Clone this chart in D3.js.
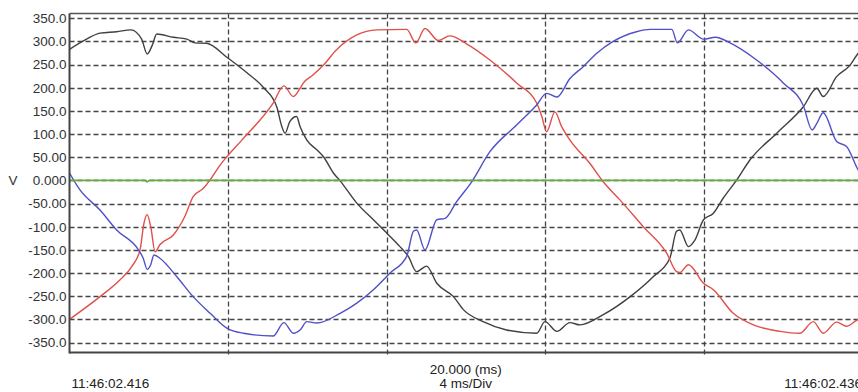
<!DOCTYPE html>
<html>
<head>
<meta charset="utf-8">
<script src="https://cdn.jsdelivr.net/npm/d3@7"></script>
<style>
  html, body { margin: 0; padding: 0; background: #fff; }
  svg { display: block; font-family: "Liberation Sans", Arial, sans-serif; }
</style>
</head>
<body>
<div id="chart"></div>
<script>
// time in ms, voltage in V
const phaseBlack = [
  [0, 283], [0.43, 305], [0.77, 318], [1.19, 321], [1.55, 325], [1.82, 305], [1.96, 273],
  [2.09, 292], [2.2, 316], [2.62, 309], [2.96, 305], [3.17, 297], [3.46, 296], [3.97, 266],
  [4.47, 233], [4.89, 201], [5.23, 159], [5.36, 116], [5.44, 102], [5.56, 127], [5.73, 138],
  [5.82, 116], [5.99, 87], [6.24, 66], [6.41, 51], [6.66, 16], [6.83, -1], [7.25, -49],
  [7.67, -85], [8.01, -114], [8.34, -143], [8.55, -164], [8.76, -197], [9.01, -185],
  [9.27, -222], [9.69, -251], [9.94, -279], [10.44, -305], [11.03, -323], [11.79, -330],
  [12.0, -305], [12.3, -326], [12.63, -307], [12.88, -312], [13.47, -290], [14.15, -251],
  [14.73, -208], [15.15, -168], [15.32, -110], [15.4, -107], [15.62, -143], [15.79, -128],
  [16.0, -85], [16.25, -71], [16.5, -38], [16.84, 1], [17.17, 44], [17.85, 102], [18.52, 159],
  [18.86, 199], [19.02, 181], [19.36, 224], [19.7, 249], [19.9, 274], [20, 282]
];

const phaseRed = [
  [0, -300], [0.77, -251], [1.27, -215], [1.57, -186], [1.78, -150], [1.88, -92], [1.96, -74],
  [2.05, -100], [2.16, -154], [2.28, -139], [2.62, -118], [2.91, -78], [3.12, -35], [3.38, -17],
  [3.55, 1], [3.8, 33], [4.01, 55], [4.35, 87], [5.14, 167], [5.41, 204], [5.65, 181],
  [5.82, 199], [5.9, 210], [6.15, 228], [6.41, 249], [6.74, 282], [7.25, 314], [7.75, 325],
  [8.51, 326], [8.74, 297], [8.97, 328], [9.31, 302], [9.6, 312], [10.02, 295], [10.61, 260],
  [11.29, 210], [11.79, 167], [11.92, 138], [12.04, 105], [12.25, 148], [12.42, 116],
  [12.63, 87], [13.13, 37], [13.47, -3], [13.89, -42], [14.48, -100], [15.07, -157],
  [15.32, -197], [15.4, -199], [15.62, -182], [16.0, -222], [16.25, -236], [16.75, -287],
  [17.26, -312], [17.93, -326], [18.43, -330], [18.77, -305], [19.02, -330], [19.36, -306],
  [19.61, -315], [19.9, -301], [20, -300]
];

const phaseBlue = [
  [0, 16], [0.26, -20], [0.77, -64], [1.19, -107], [1.74, -150], [1.86, -168], [1.96, -192],
  [2.05, -182], [2.13, -161], [2.28, -168], [2.71, -208], [3.12, -251], [3.55, -287],
  [3.97, -319], [4.39, -330], [5.14, -336], [5.41, -307], [5.65, -330], [5.82, -323],
  [5.99, -305], [6.24, -308], [6.83, -287], [7.25, -265], [7.67, -236], [8.09, -200],
  [8.51, -164], [8.68, -110], [8.76, -107], [8.97, -150], [9.27, -85], [9.48, -82],
  [9.77, -46], [10.15, -3], [10.61, 62], [11.29, 120], [11.79, 163], [12.04, 188],
  [12.3, 180], [12.63, 220], [12.97, 246], [13.3, 274], [13.72, 300], [14.31, 321],
  [14.65, 326], [15.2, 326], [15.34, 297], [15.62, 325], [16.0, 305], [16.3, 309],
  [16.67, 297], [17.34, 260], [18.02, 210], [18.52, 161], [18.74, 109], [18.86, 123],
  [19.02, 146], [19.36, 84], [19.61, 73], [19.9, 23], [20, 10]
];

const phaseGreen = [
  [0, 0], [1.9, 0], [1.96, -3], [2.02, 0], [15.28, 0], [15.32, 2], [15.36, 0], [20, 0]
];

const yTicks = [350, 300, 250, 200, 150, 100, 50, 0, -50, -100, -150, -200, -250, -300, -350];
const yTickLabels = ["350.0", "300.0", "250.0", "200.0", "150.0", "100.0", "50.00", "0.000",
  "-50.00", "-100.0", "-150.0", "-200.0", "-250.0", "-300.0", "-350.0"];
const xDivisions = [0, 4, 8, 12, 16, 20];
const startLabel = "11:46:02.416";
const endLabel = "11:46:02.436";
const spanLabel = "20.000 (ms)";
const divLabel = "4 ms/Div";
const unitLabel = "V";

const series = [
  { name: "black", values: phaseBlack, color: "#404040", width: 1.4 },
  { name: "red", values: phaseRed, color: "#e0504a", width: 1.4 },
  { name: "blue", values: phaseBlue, color: "#5050c8", width: 1.4 },
  { name: "green", values: phaseGreen, color: "#66aa44", width: 1.6 }
];

const width = 858;
const height = 392;
const plot = { left: 69.5, right: 862, top: 13.5, bottom: 352.5 };

const svg = d3.select("#chart")
  .append("svg")
  .attr("width", width)
  .attr("height", height);

const x = d3.scaleLinear().domain([0, 20]).range([plot.left, plot.right]);
const y = d3.scaleLinear().domain([-350, 350]).range([342.5, 18.3]);

svg.append("defs").append("clipPath")
  .attr("id", "plot-clip")
  .append("rect")
  .attr("x", plot.left)
  .attr("y", plot.top)
  .attr("width", plot.right - plot.left)
  .attr("height", plot.bottom - plot.top);

// horizontal dashed grid
svg.append("g")
  .selectAll("line")
  .data(yTicks)
  .join("line")
  .attr("x1", plot.left)
  .attr("x2", plot.right)
  .attr("y1", d => Math.round(y(d)) + 0.5)
  .attr("y2", d => Math.round(y(d)) + 0.5)
  .attr("stroke", "#444")
  .attr("stroke-width", 1.3)
  .attr("stroke-dasharray", "5,3");

// vertical division lines
svg.append("g")
  .selectAll("line")
  .data(xDivisions.slice(1, -1))
  .join("line")
  .attr("x1", d => Math.round(x(d)) + 0.5)
  .attr("x2", d => Math.round(x(d)) + 0.5)
  .attr("y1", plot.top)
  .attr("y2", plot.bottom + 4)
  .attr("stroke", "#444")
  .attr("stroke-width", 1.3)
  .attr("stroke-dasharray", "5,3");

const line = d3.line()
  .curve(d3.curveMonotoneX)
  .x(d => x(d[0]))
  .y(d => y(d[1]));

const traces = svg.append("g").attr("clip-path", "url(#plot-clip)");

traces.selectAll("path")
  .data(series)
  .join("path")
  .attr("d", d => line(d.values))
  .attr("fill", "none")
  .attr("stroke", d => d.color)
  .attr("stroke-width", d => d.width)
  .attr("stroke-linejoin", "round");

// frame
svg.append("line")
  .attr("x1", plot.left).attr("x2", plot.right)
  .attr("y1", plot.top).attr("y2", plot.top)
  .attr("stroke", "#555").attr("stroke-width", 1.5);

svg.append("line")
  .attr("x1", plot.left).attr("x2", plot.right)
  .attr("y1", plot.bottom).attr("y2", plot.bottom)
  .attr("stroke", "#444").attr("stroke-width", 2);

svg.append("line")
  .attr("x1", plot.left).attr("x2", plot.left)
  .attr("y1", plot.top).attr("y2", plot.bottom + 1)
  .attr("stroke", "#444").attr("stroke-width", 2);

// y labels
svg.append("g")
  .selectAll("text")
  .data(yTicks)
  .join("text")
  .attr("x", 66.5)
  .attr("y", d => y(d))
  .attr("dy", "0.36em")
  .attr("text-anchor", "end")
  .attr("font-size", 13.5)
  .attr("fill", "#333")
  .text((d, i) => yTickLabels[i]);

svg.append("text")
  .attr("x", 13)
  .attr("y", y(0))
  .attr("dy", "0.36em")
  .attr("text-anchor", "middle")
  .attr("font-size", 13.5)
  .attr("fill", "#333")
  .text(unitLabel);

// bottom labels
svg.append("text")
  .attr("x", plot.left + 2)
  .attr("y", 388)
  .attr("font-size", 13.5)
  .attr("fill", "#222")
  .text(startLabel);

svg.append("text")
  .attr("x", plot.right)
  .attr("y", 388)
  .attr("text-anchor", "end")
  .attr("font-size", 13.5)
  .attr("fill", "#222")
  .text(endLabel);

svg.append("text")
  .attr("x", x(10))
  .attr("y", 374)
  .attr("text-anchor", "middle")
  .attr("font-size", 13.5)
  .attr("fill", "#222")
  .text(spanLabel);

svg.append("text")
  .attr("x", x(10))
  .attr("y", 388)
  .attr("text-anchor", "middle")
  .attr("font-size", 13.5)
  .attr("fill", "#222")
  .text(divLabel);
</script>
</body>
</html>
